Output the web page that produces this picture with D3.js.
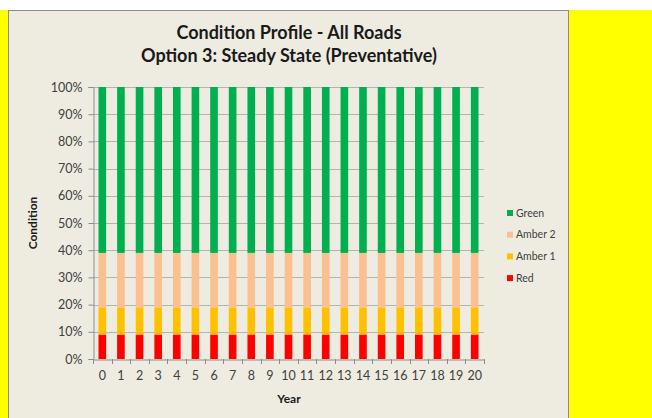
<!DOCTYPE html>
<html>
<head>
<meta charset="utf-8">
<script src="https://cdn.jsdelivr.net/npm/d3@7/dist/d3.min.js"></script>
<style>
  body { margin: 0; background: #fff; }
  svg { display: block; }
</style>
</head>
<body>
<svg id="chart" width="652" height="418"></svg>
<script>
// chart data
const years = d3.range(0, 21).map(String);
const seriesNames = ["Red", "Amber 1", "Amber 2", "Green"];
const red = [9, 9, 9, 9, 9, 9, 9, 9, 9, 9, 9, 9, 9, 9, 9, 9, 9, 9, 9, 9, 9];
const amber1 = [10, 10, 10, 10, 10, 10, 10, 10, 10, 10, 10, 10, 10, 10, 10, 10, 10, 10, 10, 10, 10];
const amber2 = [20, 20, 20, 20, 20, 20, 20, 20, 20, 20, 20, 20, 20, 20, 20, 20, 20, 20, 20, 20, 20];
const green = [61, 61, 61, 61, 61, 61, 61, 61, 61, 61, 61, 61, 61, 61, 61, 61, 61, 61, 61, 61, 61];
const yTicks = [0, 0.1, 0.2, 0.3, 0.4, 0.5, 0.6, 0.7, 0.8, 0.9, 1];

const colors = {
  "Red": "#ff0000",
  "Amber 1": "#ffc000",
  "Amber 2": "#fac090",
  "Green": "#00b050"
};

const rows = years.map((yr, i) => ({
  year: yr,
  "Red": red[i],
  "Amber 1": amber1[i],
  "Amber 2": amber2[i],
  "Green": green[i]
}));
// normalise to 100% stacked
rows.forEach(r => {
  const tot = seriesNames.reduce((s, k) => s + r[k], 0);
  seriesNames.forEach(k => r[k] = r[k] / tot);
});

const svg = d3.select("#chart");
const font = "Lato, 'Open Sans', sans-serif";

// page background pieces
svg.append("rect").attr("x", 0).attr("y", 10).attr("width", 652).attr("height", 408).attr("fill", "#ffff00");
svg.append("rect").attr("x", 8.5).attr("y", 10.5).attr("width", 560).attr("height", 420)
  .attr("fill", "#eeece1").attr("stroke", "#8c8c8c").attr("stroke-width", 1);

const margin = { top: 87, left: 93, right: 484, bottom: 359 };

const x = d3.scaleBand()
  .domain(years)
  .range([margin.left, margin.right])
  .paddingInner(0.59)
  .paddingOuter(0.295);

const y = d3.scaleLinear()
  .domain([0, 1])
  .range([margin.bottom, margin.top]);

// gridlines
svg.append("g")
  .selectAll("line")
  .data(yTicks.slice(1))
  .enter()
  .append("line")
  .attr("x1", margin.left)
  .attr("x2", margin.right)
  .attr("y1", d => Math.round(y(d)) + 0.5)
  .attr("y2", d => Math.round(y(d)) + 0.5)
  .attr("stroke", "#b3b3b3")
  .attr("stroke-width", 1);

// stacked bars
const stacked = d3.stack().keys(seriesNames)(rows);
svg.append("g")
  .selectAll("g")
  .data(stacked)
  .enter()
  .append("g")
  .attr("fill", d => colors[d.key])
  .selectAll("rect")
  .data(d => d)
  .enter()
  .append("rect")
  .attr("x", d => x(d.data.year))
  .attr("width", x.bandwidth())
  .attr("y", d => y(d[1]))
  .attr("height", d => y(d[0]) - y(d[1]));

// y axis
const yAxis = svg.append("g")
  .attr("transform", `translate(${margin.left + 0.5},0)`)
  .call(d3.axisLeft(y).tickValues(yTicks).tickFormat(d3.format(".0%")).tickSizeOuter(0).tickSize(5).tickPadding(6));
yAxis.select(".domain").attr("stroke", "#8c8c8c");
yAxis.selectAll(".tick line").attr("stroke", "#8c8c8c");
yAxis.selectAll("text").attr("fill", "#404040").style("font-family", font).style("font-size", "12.5px");

// x axis
const xAxis = svg.append("g")
  .attr("transform", `translate(0,${margin.bottom + 0.5})`)
  .call(d3.axisBottom(x).tickSize(0).tickPadding(12));
xAxis.select(".domain").attr("stroke", "#8c8c8c");
xAxis.selectAll("text").attr("fill", "#404040").style("font-family", font).style("font-size", "12.5px");
// tick marks between categories
svg.append("g")
  .selectAll("line")
  .data(d3.range(0, years.length + 1))
  .enter()
  .append("line")
  .attr("x1", i => Math.round(margin.left + i * (margin.right - margin.left) / years.length) + 0.5)
  .attr("x2", i => Math.round(margin.left + i * (margin.right - margin.left) / years.length) + 0.5)
  .attr("y1", margin.bottom)
  .attr("y2", margin.bottom + 5)
  .attr("stroke", "#8c8c8c");

// titles
svg.append("text")
  .attr("x", 289).attr("y", 39)
  .attr("text-anchor", "middle")
  .style("font-family", font).style("font-weight", "bold").style("font-size", "18px")
  .attr("fill", "#1a1a1a")
  .text("Condition Profile - All Roads");
svg.append("text")
  .attr("x", 289).attr("y", 62)
  .attr("text-anchor", "middle")
  .style("font-family", font).style("font-weight", "bold").style("font-size", "18px")
  .attr("fill", "#1a1a1a")
  .text("Option 3: Steady State (Preventative)");

svg.append("text")
  .attr("x", 289).attr("y", 403)
  .attr("text-anchor", "middle")
  .style("font-family", font).style("font-weight", "bold").style("font-size", "12px")
  .attr("fill", "#1a1a1a")
  .text("Year");

svg.append("text")
  .attr("transform", "translate(37,223) rotate(-90)")
  .attr("text-anchor", "middle")
  .style("font-family", font).style("font-weight", "bold").style("font-size", "12px")
  .attr("fill", "#1a1a1a")
  .text("Condition");

// legend
const legendItems = ["Green", "Amber 2", "Amber 1", "Red"];
const legend = svg.append("g")
  .selectAll("g")
  .data(legendItems)
  .enter()
  .append("g")
  .attr("transform", (d, i) => `translate(507,${210 + i * 21.7})`);
legend.append("rect")
  .attr("width", 6).attr("height", 6)
  .attr("fill", d => colors[d]);
legend.append("text")
  .attr("x", 9).attr("y", 6.5)
  .style("font-family", font).style("font-size", "10.5px")
  .attr("fill", "#404040")
  .text(d => d);
</script>
</body>
</html>
